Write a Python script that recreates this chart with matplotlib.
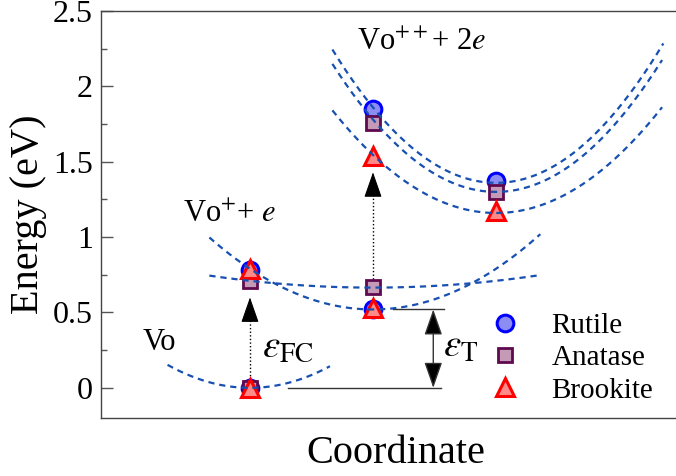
import matplotlib
matplotlib.use("Agg")
import matplotlib.pyplot as plt
import numpy as np

SERIF = "Liberation Serif"
plt.rcParams["font.family"] = "serif"
plt.rcParams["font.serif"] = [SERIF, "Times New Roman", "DejaVu Serif"]
plt.rcParams["mathtext.fontset"] = "stix"

# ---------------------------------------------------------------------------
# Data (energies in eV, configuration coordinate in arbitrary units)
# ---------------------------------------------------------------------------
polymorphs = ["Rutile", "Anatase", "Brookite"]
coord_pts = [0, 0, 1, 1, 2]            # Vo, Vo+ (x2), Vo++ (x2)
rutile_E = [0.0, 0.78, 0.52, 1.85, 1.37]
anatase_E = [0.0, 0.71, 0.67, 1.76, 1.30]
brookite_E = [0.0, 0.79, 0.53, 1.54, 1.17]

# dashed potential-energy curves: centre, minimum, curvature, x-range
curve_centre = [0.0, 1.0, 1.0, 2.0, 2.0, 2.0]
curve_min = [0.0, 0.52, 0.665, 1.36, 1.30, 1.16]
curve_k = [0.34, 0.27, 0.045, 0.50, 0.48, 0.385]
curve_x0 = [-0.67, -0.33, -0.33, 0.67, 0.67, 0.67]
curve_x1 = [0.65, 2.36, 2.36, 3.36, 3.35, 3.35]

eps_fc = [0.03, 0.60]     # dotted arrow at x=0
eps_up = [0.72, 1.43]     # dotted arrow at x=1
eps_t = [0.0, 0.52]       # thermal level difference

ytick_vals = [0, 0.5, 1, 1.5, 2, 2.5]
ytick_labels = ["0", "0.5", "1", "1.5", "2", "2.5"]

styles = {
    "Rutile":   dict(marker="o", ms=12, mfc="#8c8cf5", mec="#0000ff", mew=2.2),
    "Anatase":  dict(marker="s", ms=10.5, mfc="#c49ab6", mec="#5e0a4e", mew=2.0),
    "Brookite": dict(marker="^", ms=13, mfc="#ff8a8a", mec="#ff0000", mew=2.2),
}

fig = plt.figure(figsize=(6.76, 4.76), dpi=100)
ax = fig.add_axes([101 / 676, 58 / 476, 590 / 676, 407 / 476])

for name, energies in zip(polymorphs, [rutile_E, anatase_E, brookite_E]):
    ax.plot(coord_pts, energies, ls="none", label=name, zorder=3,
            **styles[name])

for c, m, k, a, b in zip(curve_centre, curve_min, curve_k, curve_x0, curve_x1):
    xs = np.linspace(a, b, 200)
    ax.plot(xs, m + k * (xs - c) ** 2, color="#1750b0", lw=1.6,
            ls=(0, (2.8, 2.2)), zorder=4)

# vertical (optical) transitions: dotted shaft + solid head
for x, (y0, y1) in [(0, eps_fc), (1, eps_up)]:
    ax.plot([x, x], [y0, y1 - 0.05], color="k", lw=1.0, ls=(0, (1, 1.6)))
    ax.annotate("", xy=(x, y1), xytext=(x, y1 - 0.1),
                arrowprops=dict(arrowstyle="-|>,head_length=0.8,head_width=0.28",
                                lw=0.8, color="k", mutation_scale=20,
                                shrinkA=0, shrinkB=0))

# thermal level
ax.plot([0.31, 1.55], [eps_t[0], eps_t[0]], color="#333333", lw=1.0)
ax.plot([1.16, 1.58], [eps_t[1], eps_t[1]], color="#333333", lw=1.0)
ax.annotate("", xy=(1.49, eps_t[0]), xytext=(1.49, eps_t[1]),
            arrowprops=dict(arrowstyle="<|-|>,head_length=0.8,head_width=0.28",
                            lw=1.0, color="#333333", fc="k",
                            mutation_scale=20, shrinkA=0, shrinkB=0))

ax.text(-0.87, 0.30, "Vo", fontsize=22, va="center", fontfamily=SERIF)
ax.text(-0.545, 1.15, r"Vo$^{+}$+ $e$", fontsize=22, va="center",
        fontfamily=SERIF)
ax.text(0.87, 2.29, r"Vo$^{++}$+ 2$e$", fontsize=22, va="center",
        fontfamily=SERIF)
ax.text(0.10, 0.27, r"$\varepsilon_{\rm FC}$", fontsize=28, va="center")
ax.text(1.57, 0.27, r"$\varepsilon_{\rm T}$", fontsize=28, va="center")

ax.set_xlim(-1.211, 3.585)
ax.set_ylim(-0.2, 2.5)
ax.set_xticks([])
ax.set_yticks(ytick_vals)
ax.set_yticklabels(ytick_labels, fontfamily=SERIF, fontsize=23)
ax.set_yticks(np.arange(0.25, 2.5, 0.5), minor=True)
ax.tick_params(axis="y", which="major", direction="in", length=8.5,
               width=1, color="#555555", pad=6)
ax.tick_params(axis="y", which="minor", direction="in", length=4.5,
               width=1, color="#555555")
for sp in ax.spines.values():
    sp.set_color("#444444")
    sp.set_linewidth(1.0)

ax.set_ylabel("Energy (eV)", fontsize=29, labelpad=4, fontfamily=SERIF)
ax.set_xlabel("Coordinate", fontsize=29, labelpad=12, fontfamily=SERIF)

ax.legend(loc="lower left", bbox_to_anchor=(0.62, -0.015), frameon=False,
          prop=dict(family=SERIF, size=21), handletextpad=1.0,
          labelspacing=0.2, handlelength=1.2, borderpad=0.2)

fig.savefig("out.png", dpi=100)
